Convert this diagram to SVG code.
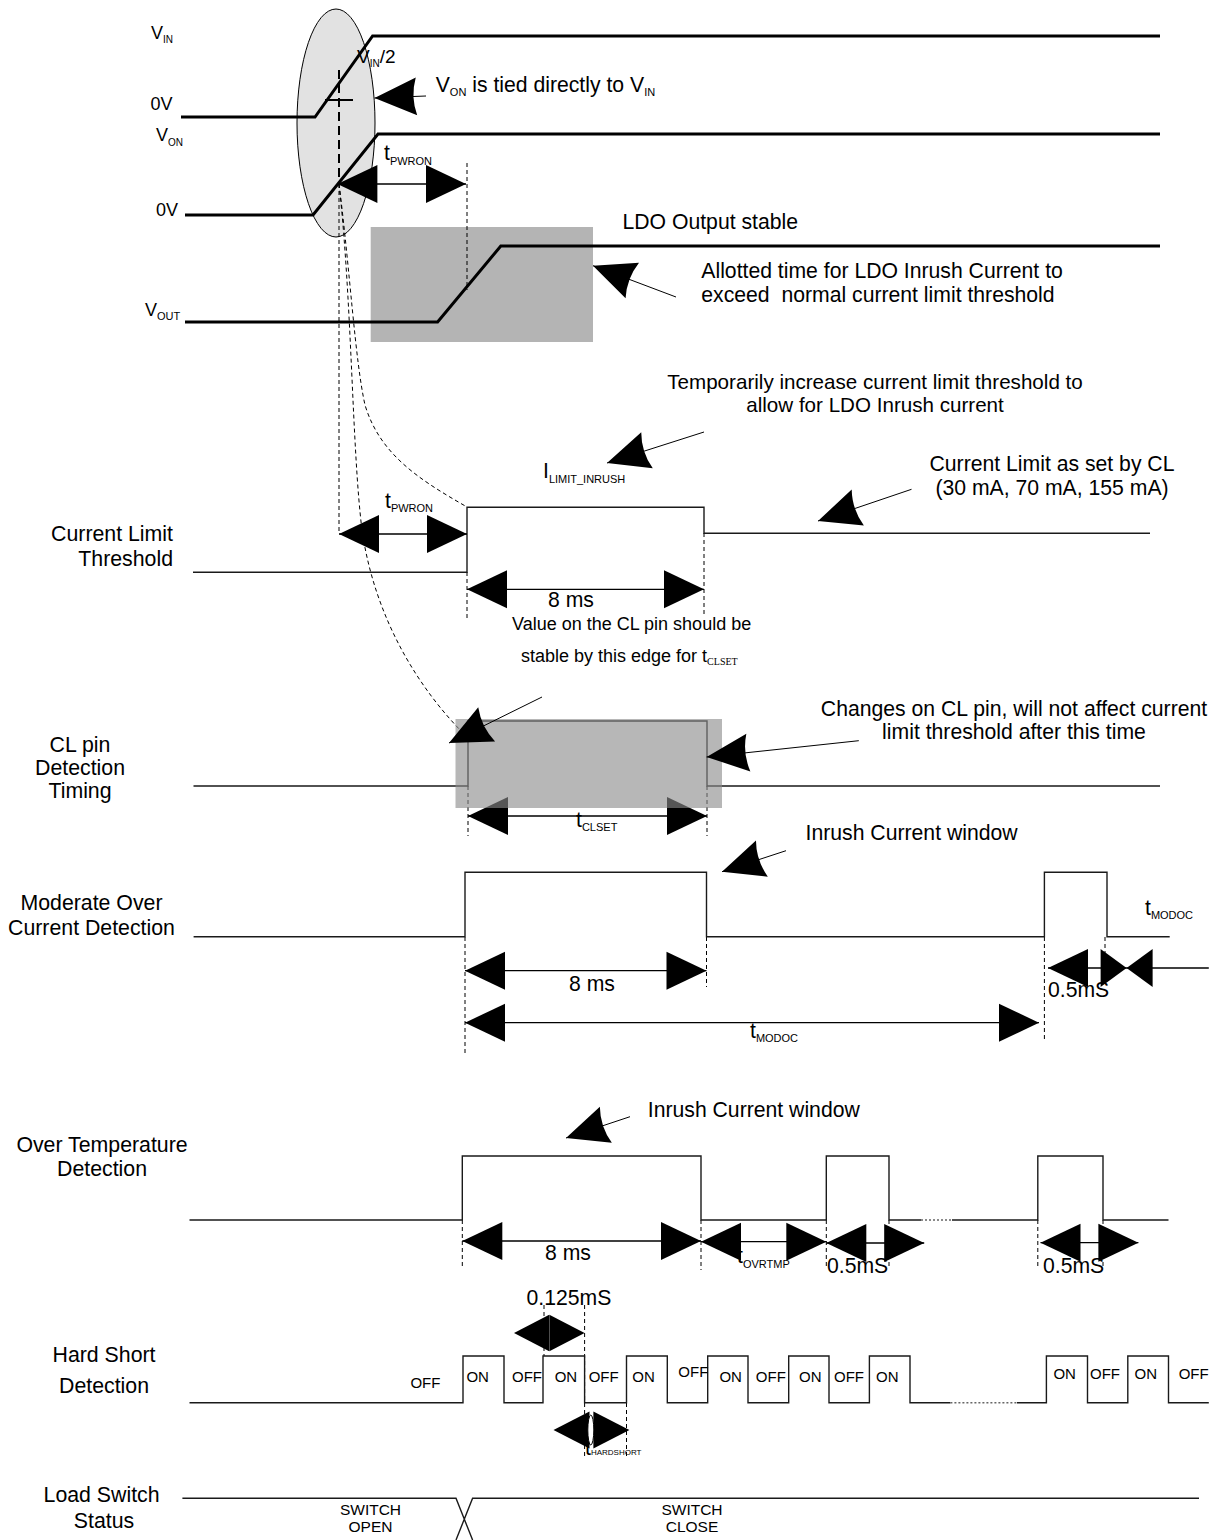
<svg xmlns="http://www.w3.org/2000/svg" xmlns:xlink="http://www.w3.org/1999/xlink" width="1214" height="1540" viewBox="0 0 1214 1540">
<style>
text{font-family:"Liberation Sans",Arial,sans-serif;font-size:21.2px;fill:#000}
.lbl{font-size:21.3px;text-anchor:middle}
.sig{font-size:18px}
.sub{font-size:11px}
.sm{font-size:18px}
.oo{font-size:15px}
.sw{font-size:15.5px;text-anchor:middle}
.mid{text-anchor:middle}
.note2{font-size:20.6px}
.half{font-size:19px}
.thick{fill:none;stroke:#000;stroke-width:3}
.wave{fill:none;stroke:#1a1a1a;stroke-width:1.4}
.dash{fill:none;stroke:#000;stroke-width:1;stroke-dasharray:4 3}
.dot{fill:none;stroke:#666;stroke-width:1.4;stroke-dasharray:2 2}
.dim{stroke:#000;stroke-width:1.3}
.call{stroke:#000;stroke-width:1}
</style>
<defs>
<path id="hl" d="M0,0 L40,-19 L40,19 Z"/>
<path id="hr" d="M0,0 L-40,-19 L-40,19 Z"/>
<path id="ca" d="M0,0 L42,-19 Q36,0 42,19 Z"/>
</defs>

<g id="backgrounds">
<ellipse cx="336" cy="123" rx="39" ry="114" fill="#e2e2e2" stroke="#000" stroke-width="1"/>
<rect x="370.7" y="227" width="222.3" height="115" fill="#b4b4b4"/>
</g>

<g id="connectors">
<line x1="339" y1="70" x2="339" y2="184" stroke="#000" stroke-width="2" stroke-dasharray="9 5"/>
<line class="dash" x1="339" y1="184" x2="339" y2="534"/>
<path class="dash" d="M339,184 C350,270 355,360 365,405 C380,455 420,480 467,507"/>
<path class="dash" d="M339,184 C352,300 352,450 362,530 C375,620 420,690 465,735"/>
<line class="dash" x1="467" y1="163" x2="467" y2="290"/>
<line class="dash" x1="467" y1="572" x2="467" y2="618"/>
<line class="dash" x1="704" y1="533" x2="704" y2="615"/>
<line class="dash" x1="468" y1="786" x2="468" y2="836"/>
<line class="dash" x1="707" y1="786" x2="707" y2="836"/>
<line class="dash" x1="465" y1="937" x2="465" y2="1055"/>
<line class="dash" x1="706.5" y1="937" x2="706.5" y2="987"/>
<line class="dash" x1="1044.4" y1="937" x2="1044.4" y2="1042"/>
<line class="dash" x1="1105" y1="937" x2="1105" y2="970"/>
<line class="dash" x1="462.3" y1="1220" x2="462.3" y2="1268"/>
<line class="dash" x1="701" y1="1220" x2="701" y2="1270"/>
<line class="dash" x1="826.3" y1="1220" x2="826.3" y2="1268"/>
<line class="dash" x1="889" y1="1220" x2="889" y2="1268"/>
<line class="dash" x1="1037.8" y1="1220" x2="1037.8" y2="1268"/>
<line class="dash" x1="1103" y1="1220" x2="1103" y2="1268"/>
<line class="dash" x1="544" y1="1305" x2="544" y2="1356"/>
<line class="dash" x1="584.6" y1="1305" x2="584.6" y2="1458"/>
<line class="dash" x1="626.5" y1="1403" x2="626.5" y2="1458"/>
</g>

<g id="vin">
<path class="thick" d="M181,117 H315 L372.6,36 H1160"/>
<line x1="325" y1="100" x2="353" y2="100" stroke="#000" stroke-width="2"/>
<text class="sig" x="151" y="39">V<tspan font-size="10" dy="4">IN</tspan></text>
<text class="sig" x="150.6" y="110">0V</text>
<text class="half" x="357" y="63">V<tspan font-size="10" dy="4">IN</tspan><tspan dy="-4">/2</tspan></text>
</g>

<g id="von-note">
<line class="call" x1="426" y1="96" x2="374.5" y2="98"/>
<use xlink:href="#ca" transform="translate(374.5,98) rotate(-2.2)"/>
<text x="435.7" y="92">V<tspan class="sub" dy="4">ON</tspan><tspan dy="-4"> is tied directly to V</tspan><tspan class="sub" dy="4">IN</tspan></text>
</g>

<g id="von">
<path class="thick" d="M185,215 H313 L378,134 H1160"/>
<text class="sig" x="156" y="141">V<tspan font-size="10" dy="5">ON</tspan></text>
<text class="sig" x="156" y="216">0V</text>
</g>

<g id="tpwron-top">
<line class="dim" x1="337.4" y1="184" x2="466" y2="184"/>
<use xlink:href="#hl" x="337.4" y="184"/>
<use xlink:href="#hr" x="466" y="184"/>
<text x="384" y="160">t<tspan class="sub" dy="5">PWRON</tspan></text>
</g>

<g id="vout">
<path class="thick" d="M185,322 H437.6 L500.8,246 H1160"/>
<text class="sig" x="145" y="316">V<tspan font-size="11" dy="4">OUT</tspan></text>
<text x="622.5" y="229">LDO Output stable</text>
</g>

<g id="ldo-note">
<line class="call" x1="676" y1="297" x2="593" y2="265.7"/>
<use xlink:href="#ca" transform="translate(593,265.7) rotate(20.7)"/>
<text x="701.3" y="278">Allotted time for LDO Inrush Current to</text>
<text x="701.3" y="302" xml:space="preserve">exceed  normal current limit threshold</text>
</g>

<g id="ilimit-note">
<text class="mid note2" x="875" y="389">Temporarily increase current limit threshold to</text>
<text class="mid note2" x="875" y="412">allow for LDO Inrush current</text>
<line class="call" x1="704" y1="432" x2="607" y2="463"/>
<use xlink:href="#ca" transform="translate(607,463) rotate(-17.7)"/>
<text x="543" y="478">I<tspan class="sub" dy="5">LIMIT_INRUSH</tspan></text>
</g>

<g id="current-limit">
<text class="lbl" x="173" y="541" style="text-anchor:end">Current Limit</text>
<text class="lbl" x="173" y="566" style="text-anchor:end">Threshold</text>
<path class="wave" d="M193,572.3 H467 V507.3 H704 V533.3 H1150"/>
<line class="dim" x1="339" y1="534" x2="467" y2="534"/>
<use xlink:href="#hl" x="339" y="534"/>
<use xlink:href="#hr" x="467" y="534"/>
<text x="385" y="508">t<tspan class="sub" dy="4">PWRON</tspan></text>
<line class="dim" x1="467" y1="589.3" x2="704" y2="589.3"/>
<use xlink:href="#hl" x="467" y="589.3"/>
<use xlink:href="#hr" x="704" y="589.3"/>
<text x="548" y="607">8 ms</text>
<text class="sm" x="512" y="630">Value on the CL pin should be</text>
<text class="sm" x="521" y="662">stable by this edge for t<tspan font-family="'Liberation Serif',serif" font-size="10" dy="3">CLSET</tspan></text>
</g>

<g id="cl-set-note">
<text class="mid" x="1052" y="471">Current Limit as set by CL</text>
<text class="mid" x="1052" y="495">(30 mA, 70 mA, 155 mA)</text>
<line class="call" x1="911.5" y1="489.3" x2="818" y2="521"/>
<use xlink:href="#ca" transform="translate(818,521) rotate(-18.7)"/>
</g>

<g id="cl-pin">
<text class="lbl" x="80" y="752">CL pin</text>
<text class="lbl" x="80" y="775">Detection</text>
<text class="lbl" x="80" y="798">Timing</text>
<path class="wave" d="M193.5,786 H468 V721 H707 V786 H1160"/>
<line class="dim" x1="468" y1="816" x2="707" y2="816"/>
<use xlink:href="#hl" x="468" y="816"/>
<use xlink:href="#hr" x="707" y="816"/>
<text x="576" y="827">t<tspan class="sub" dy="4">CLSET</tspan></text>
<rect x="455.5" y="719" width="266.5" height="89" fill="#8a8a8a" fill-opacity="0.62"/>
<line class="call" x1="542" y1="697" x2="449" y2="743"/>
<use xlink:href="#ca" transform="translate(449,743) rotate(-26.3)"/>
<line class="call" x1="858.8" y1="740.7" x2="706.6" y2="757"/>
<use xlink:href="#ca" transform="translate(706.6,757) rotate(-6.1)"/>
<text class="mid" x="1014" y="716">Changes on CL pin, will not affect current</text>
<text class="mid" x="1014" y="739">limit threshold after this time</text>
</g>

<g id="modoc">
<text x="805.6" y="840">Inrush Current window</text>
<line class="call" x1="786" y1="850.7" x2="722" y2="871.7"/>
<use xlink:href="#ca" transform="translate(722,871.7) rotate(-18.2)"/>
<text class="lbl" x="91.5" y="910">Moderate Over</text>
<text class="lbl" x="91.5" y="935">Current Detection</text>
<path class="wave" d="M193.6,936.7 H465 V872.3 H706.5 V936.7 H1044.4 V872.3 H1107 V936.7 H1169.7"/>
<line class="dim" x1="465" y1="970.7" x2="706.5" y2="970.7"/>
<use xlink:href="#hl" x="465" y="970.7"/>
<use xlink:href="#hr" x="706.5" y="970.7"/>
<text x="569" y="991">8 ms</text>
<line class="dim" x1="465" y1="1022.7" x2="1039" y2="1022.7"/>
<use xlink:href="#hl" x="465" y="1022.7"/>
<use xlink:href="#hr" x="1039" y="1022.7"/>
<text x="750" y="1038">t<tspan class="sub" dy="4">MODOC</tspan></text>
<line class="dim" x1="1048" y1="968" x2="1208.8" y2="968"/>
<use xlink:href="#hl" x="1048" y="968"/>
<use xlink:href="#hr" transform="translate(1126.6,968) scale(0.65,1)"/>
<use xlink:href="#hl" transform="translate(1126.6,968) scale(0.65,1)"/>
<text x="1048" y="997">0.5mS</text>
<text x="1145" y="915">t<tspan class="sub" dy="4">MODOC</tspan></text>
</g>

<g id="overtemp">
<text x="647.8" y="1117">Inrush Current window</text>
<line class="call" x1="630" y1="1116.7" x2="566" y2="1138"/>
<use xlink:href="#ca" transform="translate(566,1138) rotate(-18.4)"/>
<text class="lbl" x="102" y="1152">Over Temperature</text>
<text class="lbl" x="102" y="1176">Detection</text>
<path class="wave" d="M189.5,1220 H462.3 V1156 H701 V1220 H826.3 V1156 H889 V1220 H921"/>
<path class="dot" d="M921,1220 H952"/>
<path class="wave" d="M952,1220 H1037.8 V1156 H1103 V1220 H1168.5"/>
<line class="dim" x1="462.3" y1="1241" x2="701" y2="1241"/>
<use xlink:href="#hl" x="462.3" y="1241"/>
<use xlink:href="#hr" x="701" y="1241"/>
<text x="545" y="1260">8 ms</text>
<line class="dim" x1="701" y1="1241.7" x2="826.3" y2="1241.7"/>
<use xlink:href="#hl" x="701" y="1241.7"/>
<use xlink:href="#hr" x="826.3" y="1241.7"/>
<text x="737" y="1263">t<tspan class="sub" dy="5">OVRTMP</tspan></text>
<line class="dim" x1="826.3" y1="1243" x2="924.2" y2="1243"/>
<use xlink:href="#hl" x="826.3" y="1243"/>
<use xlink:href="#hr" x="924.2" y="1243"/>
<text x="827" y="1273">0.5mS</text>
<line class="dim" x1="1040.5" y1="1242.7" x2="1138.4" y2="1242.7"/>
<use xlink:href="#hl" x="1040.5" y="1242.7"/>
<use xlink:href="#hr" x="1138.4" y="1242.7"/>
<text x="1043" y="1273">0.5mS</text>
</g>

<g id="hardshort">
<text x="526.5" y="1305">0.125mS</text>
<use xlink:href="#hl" transform="translate(514,1333) scale(0.88,0.96)"/>
<use xlink:href="#hr" transform="translate(584.6,1333) scale(0.88,0.96)"/>
<text class="lbl" x="104" y="1362">Hard Short</text>
<text class="lbl" x="104" y="1393">Detection</text>
<path class="wave" d="M189.5,1402.7 H463 V1356 H504 V1402.7 H543 V1356 H584.6 V1402.7 H626.5 V1356 H667.3 V1402.7 H707.7 V1356 H748 V1402.7 H788.7 V1356 H829 V1402.7 H869.4 V1356 H910 V1402.7 H950.4"/>
<path class="dot" d="M950.4,1402.7 H1017"/>
<path class="wave" d="M1017,1402.7 H1046.4 V1356 H1087.5 V1402.7 H1127.8 V1356 H1168.5 V1402.7 H1208.8"/>
<text class="oo" x="410.4" y="1388">OFF</text>
<text class="oo" x="466.4" y="1382">ON</text>
<text class="oo" x="512" y="1382">OFF</text>
<text class="oo" x="554.7" y="1382">ON</text>
<text class="oo" x="588.7" y="1382">OFF</text>
<text class="oo" x="632.3" y="1382">ON</text>
<text class="oo" x="678.3" y="1377">OFF</text>
<text class="oo" x="719.4" y="1382">ON</text>
<text class="oo" x="755.8" y="1382">OFF</text>
<text class="oo" x="799" y="1382">ON</text>
<text class="oo" x="834" y="1382">OFF</text>
<text class="oo" x="876" y="1382">ON</text>
<text class="oo" x="1053.4" y="1379">ON</text>
<text class="oo" x="1090" y="1379">OFF</text>
<text class="oo" x="1134.5" y="1379">ON</text>
<text class="oo" x="1178.7" y="1379">OFF</text>
<text x="585" y="1455">t<tspan font-size="8" dy="0">HARDSHORT</tspan></text>
<use xlink:href="#hl" transform="translate(553.5,1430) scale(0.9,0.97)"/>
<use xlink:href="#hr" transform="translate(629.4,1430) scale(0.9,0.97)"/>
<ellipse cx="590.8" cy="1430" rx="3" ry="15" fill="#fff" stroke="#000" stroke-width="1"/>
</g>

<g id="load-switch">
<text class="lbl" x="101.6" y="1502">Load Switch</text>
<text class="lbl" x="104" y="1528">Status</text>
<path class="wave" d="M182.4,1498.3 H456 L472.6,1540 M456,1540 L472.6,1498.3 H1199"/>
<text class="sw" x="370.5" y="1515">SWITCH</text>
<text class="sw" x="370.5" y="1532">OPEN</text>
<text class="sw" x="692" y="1515">SWITCH</text>
<text class="sw" x="692" y="1532">CLOSE</text>
</g>
</svg>
